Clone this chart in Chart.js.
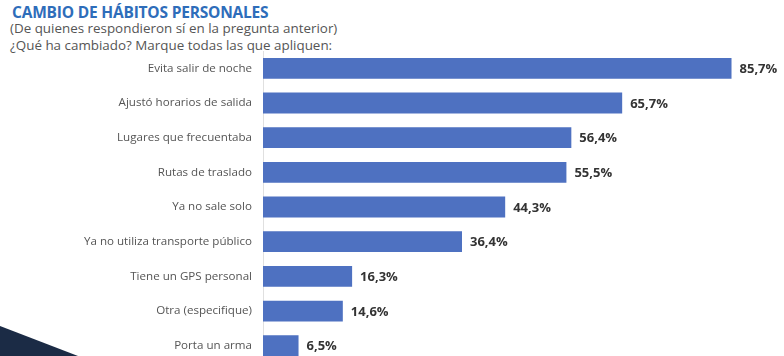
<!DOCTYPE html>
<html><head><meta charset="utf-8">
<script src="https://cdn.jsdelivr.net/npm/chart.js@4/dist/chart.umd.min.js"></script>
<style>
html,body{margin:0;padding:0;width:784px;height:356px;overflow:hidden;background:#fff;position:relative}
#t{position:absolute;left:12px;top:1px;font:bold 15.5px "Open Sans",sans-serif;color:#2E6DBA;letter-spacing:-0.2px}
#s{position:absolute;left:10px;top:20px;font:13.4px "Open Sans",sans-serif;color:#555;line-height:17px}
#wrap{position:absolute;left:0;top:0;width:784px;height:381px}
#tri{position:absolute;left:0;top:326px;width:78px;height:30px;background:#1B2B45;clip-path:polygon(0 0,100% 100%,0 100%)}
</style></head><body>
<div id="tri"></div>
<div id="t">CAMBIO DE HÁBITOS PERSONALES</div>
<div id="s">(De quienes respondieron sí en la pregunta anterior)<br>¿Qué ha cambiado? Marque todas las que apliquen:</div>
<div id="wrap"><canvas id="c"></canvas></div>
<script>
const categories = ["Evita salir de noche","Ajustó horarios de salida","Lugares que frecuentaba","Rutas de traslado","Ya no sale solo","Ya no utiliza transporte público","Tiene un GPS personal","Otra (especifique)","Porta un arma"];
const values = [85.7,65.7,56.4,55.5,44.3,36.4,16.3,14.6,6.5];
const valueLabels = ["85,7%","65,7%","56,4%","55,5%","44,3%","36,4%","16,3%","14,6%","6,5%"];

const labelPlugin = {
  id:'vlabels',
  afterDatasetsDraw(chart){
    const ctx = chart.ctx;
    const meta = chart.getDatasetMeta(0);
    ctx.save();
    ctx.font = 'bold 13px "Open Sans", sans-serif';
    ctx.fillStyle = '#333';
    ctx.textBaseline = 'middle';
    ctx.textAlign = 'left';
    meta.data.forEach((b,i)=>{ ctx.fillText(valueLabels[i], b.x + 8, b.y + 1); });
    ctx.restore();
  }
};

new Chart(document.getElementById('c'), {
  type:'bar',
  data:{labels:categories, datasets:[{data:values, backgroundColor:'#4E71C1', barPercentage:0.6, categoryPercentage:1.0}]},
  options:{
    indexAxis:'y', responsive:true, maintainAspectRatio:false, animation:false,
    layout:{padding:{top:51, right:0, bottom:0, left:0}},
    plugins:{legend:{display:false}, tooltip:{enabled:false}},
    scales:{
      x:{display:false, min:0, max:95.3},
      y:{
        afterFit(s){ s.width = 263; },
        grid:{display:false, drawTicks:false},
        border:{display:true, color:'#e0e0e0', width:1},
        ticks:{padding:11, color:'#555', font:{family:'"Open Sans", sans-serif', size:11.6}}
      }
    }
  },
  plugins:[labelPlugin]
});
</script>
</body></html>
